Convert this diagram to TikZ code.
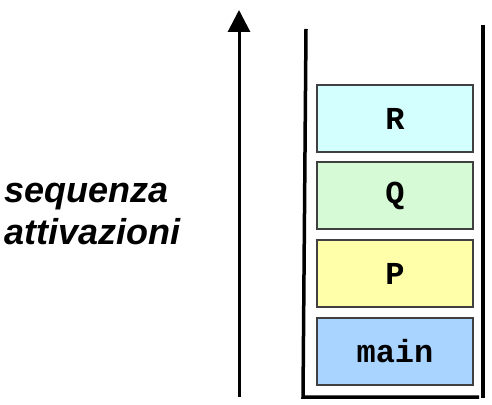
\documentclass[tikz,border=0pt]{standalone}
\usepackage{fontspec}
\setmainfont{Liberation Sans}
\newfontfamily\monofnt{Liberation Mono}
\usetikzlibrary{arrows.meta}
\definecolor{cR}{HTML}{D4FFFF}
\definecolor{cQ}{HTML}{D6FAD6}
\definecolor{cP}{HTML}{FFFFAA}
\definecolor{cM}{HTML}{A8D4FF}
\definecolor{bord}{HTML}{404040}
\tikzset{
  frame/.style={draw=bord,line width=1.4pt,minimum width=156pt,minimum height=67pt,inner sep=0pt,font={\monofnt\bfseries\fontsize{32}{32}\selectfont}},
  wall/.style={line width=3.5pt,line cap=butt,line join=miter},
  label/.style={anchor=base west,inner sep=0pt,font={\bfseries\itshape\fontsize{36}{42}\selectfont}}
}
\begin{document}
\begin{tikzpicture}[x=1pt,y=1pt]
\useasboundingbox (0,0) rectangle (492,404);
% arrow
\coordinate (a0) at (239,7);
\coordinate (a1) at (239,394);
\draw[line width=3pt,-{Triangle[width=22pt,length=22pt]}] (a0) -- (a1);
% container
\coordinate (w0) at (306,375);
\coordinate (w1) at (303,7);
\coordinate (w2) at (479,7);
\coordinate (r0) at (483,379);
\coordinate (r1) at (483,6);
\draw[wall] (w0) -- (w1) -- (w2);
\draw[wall] (r0) -- (r1);
% frames
\node[frame,fill=cR] (R) at (395,285.5) {R};
\node[frame,fill=cQ] (Q) at (395,208.5) {Q};
\node[frame,fill=cP] (P) at (395,130.5) {P};
\node[frame,fill=cM] (M) at (395,52.5) {main};
% label
\node[label] (l1) at (4,201) {sequenza};
\node[label] (l2) at (4,159) {attivazioni};
\end{tikzpicture}
\end{document}
